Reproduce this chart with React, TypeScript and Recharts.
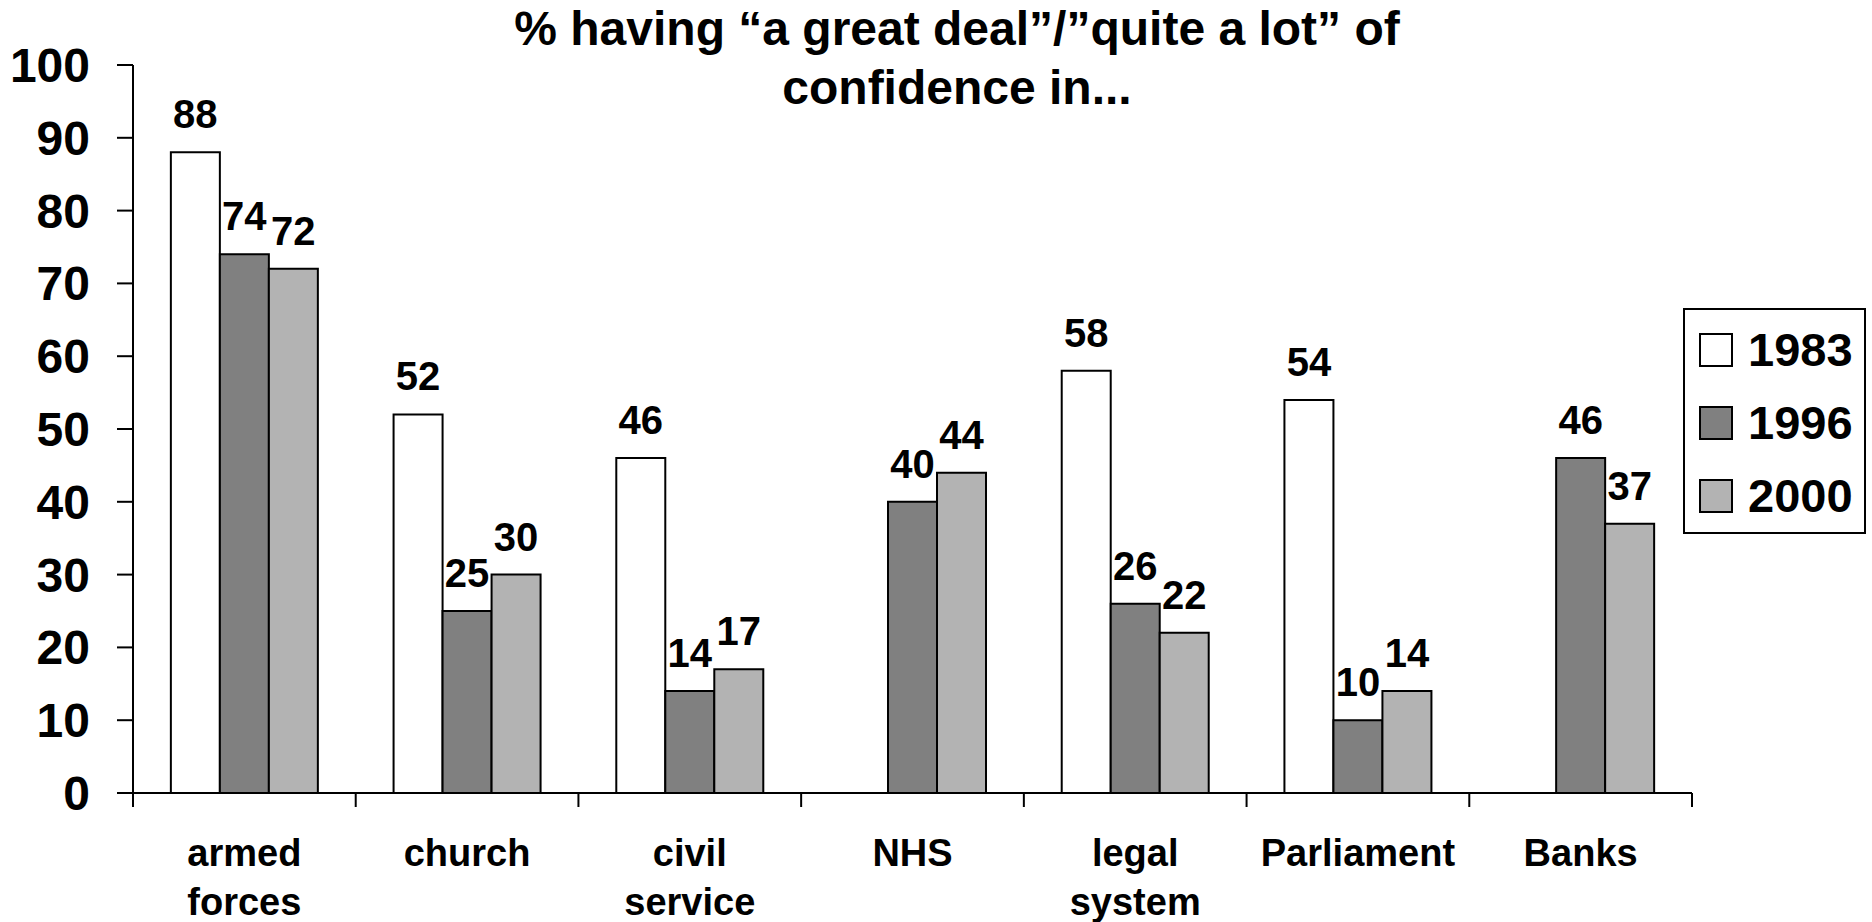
import * as React from 'react';
import { BarChart, Bar, XAxis, YAxis, Legend, LabelList } from 'recharts';

// values
const categories = ['armed forces', 'church', 'civil service', 'NHS', 'legal system', 'Parliament', 'Banks'];
const values1983 = [88, 52, 46, null, 58, 54, null];
const values1996 = [74, 25, 14, 40, 26, 10, 46];
const values2000 = [72, 30, 17, 44, 22, 14, 37];
const yTicks = [0, 10, 20, 30, 40, 50, 60, 70, 80, 90, 100];

const seriesDefs = [
    { key: 'y1983', name: '1983', fill: '#ffffff' },
    { key: 'y1996', name: '1996', fill: '#808080' },
    { key: 'y2000', name: '2000', fill: '#b3b3b3' },
];

const data = categories.map((name, i) => ({
    name,
    y1983: values1983[i],
    y1996: values1996[i],
    y2000: values2000[i],
}));

const W = 1872;
const H = 922;
const Y_AXIS_W = 133;
const X_AXIS_H = 129;
const MARGIN = { top: 65, right: 180, bottom: 0, left: 0 };
const BAND = (W - MARGIN.right - Y_AXIS_W) / categories.length;
const FONT = '"Liberation Sans", Arial, Helvetica, sans-serif';

const CategoryTick: React.FC<any> = ({ x, y, payload, index }) => {
    const lines = String(payload.value).split(' ');
    const half = BAND / 2;
    return (
        <g>
            <line x1={x - half} y1={y} x2={x - half} y2={y + 14} stroke="#000" strokeWidth={2} />
            {index === categories.length - 1 && (
                <line x1={x + half} y1={y} x2={x + half} y2={y + 14} stroke="#000" strokeWidth={2} />
            )}
            <text x={x} y={y + 73} textAnchor="middle" fontSize={38} fontWeight={700} fill="#000">
                {lines.map((l, i) => (
                    <tspan key={i} x={x} dy={i === 0 ? 0 : 49}>{l}</tspan>
                ))}
            </text>
        </g>
    );
};

const LegendBox: React.FC<any> = () => (
    <div style={{ border: '2px solid #000', width: 179, paddingTop: 3, background: '#fff', boxSizing: 'content-box' }}>
        {seriesDefs.map(s => (
            <div key={s.key} style={{ height: 73, display: 'flex', alignItems: 'center' }}>
                <div style={{ width: 30, height: 30, marginLeft: 14, border: '2px solid #000', background: s.fill }} />
                <span style={{ marginLeft: 15, fontSize: 47, fontWeight: 700, color: '#000', lineHeight: '47px' }}>{s.name}</span>
            </div>
        ))}
    </div>
);

const App: React.FC = () => {
    return (
        <div style={{ position: 'absolute', left: 0, top: 0, width: W, height: H, background: '#fff', fontFamily: FONT }}>
            <div style={{ position: 'absolute', left: 957 - 500, top: -1, width: 1000, textAlign: 'center', fontSize: 48, fontWeight: 700, lineHeight: '59px', color: '#000' }}>
                % having “a great deal”/”quite a lot” of
                <br />
                confidence in...
            </div>
            <BarChart width={W} height={H} data={data} margin={MARGIN} barCategoryGap="17%" barGap={0}>
                <XAxis
                    dataKey="name"
                    height={X_AXIS_H}
                    interval={0}
                    tickLine={false}
                    tickSize={0}
                    tickMargin={0}
                    axisLine={{ stroke: '#000', strokeWidth: 2 }}
                    tick={<CategoryTick />}
                />
                <YAxis
                    width={Y_AXIS_W}
                    domain={[0, 100]}
                    ticks={yTicks}
                    interval={0}
                    tickSize={16}
                    tickMargin={27}
                    axisLine={{ stroke: '#000', strokeWidth: 2 }}
                    tickLine={{ stroke: '#000', strokeWidth: 2 }}
                    tick={{ fontSize: 48, fontWeight: 700, fill: '#000' }}
                />
                <Legend
                    layout="vertical"
                    align="center"
                    verticalAlign="middle"
                    content={<LegendBox />}
                    wrapperStyle={{ position: 'absolute', left: 1683, top: 308, width: 183 }}
                />
                {seriesDefs.map(s => (
                    <Bar key={s.key} dataKey={s.key} name={s.name} fill={s.fill} stroke="#000" strokeWidth={2} isAnimationActive={false}>
                        <LabelList dataKey={s.key} position="top" offset={24} fill="#000" fontSize={40} fontWeight={700} />
                    </Bar>
                ))}
            </BarChart>
        </div>
    );
};

export default App;
